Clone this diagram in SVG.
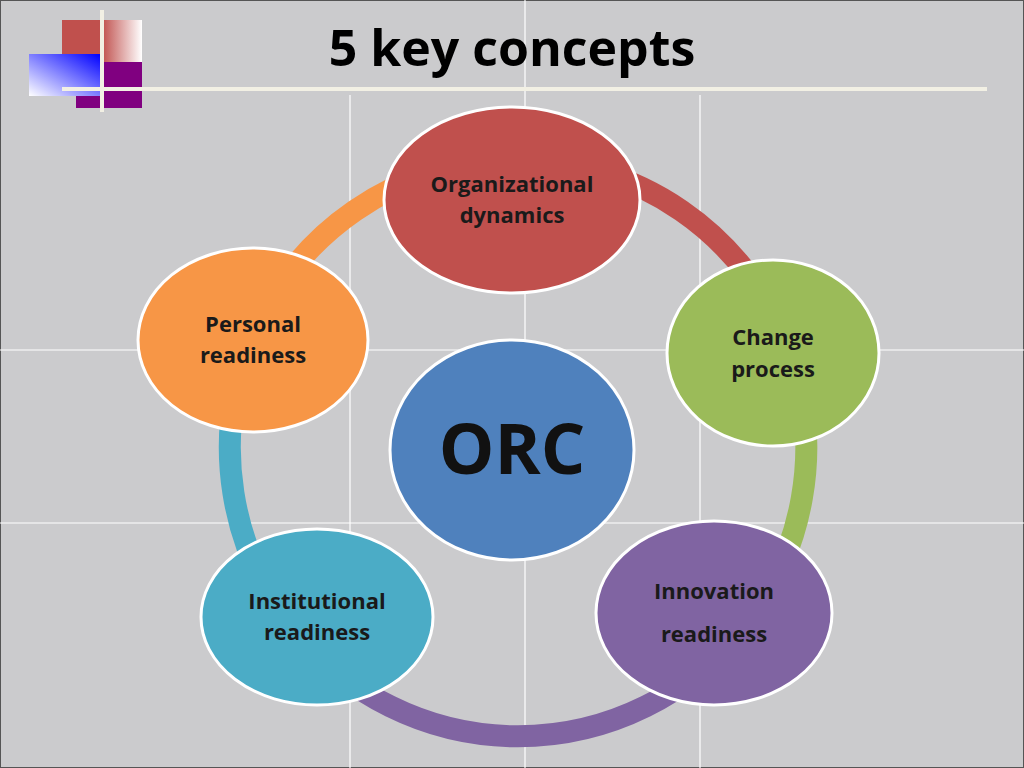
<svg xmlns="http://www.w3.org/2000/svg" width="1024" height="768" viewBox="0 0 1024 768">
<defs>
<linearGradient id="rg" x1="0" y1="0" x2="1" y2="0"><stop offset="0" stop-color="#C0504D"/><stop offset="1" stop-color="#fff"/></linearGradient>
<linearGradient id="bg" x1="1" y1="0" x2="0" y2="1"><stop offset="0" stop-color="#0000FF"/><stop offset="1" stop-color="#fff"/></linearGradient>
<style>
.n{stroke:#fff;stroke-width:3}
.t{font-family:"Open Sans","Liberation Sans",sans-serif;font-weight:bold;font-size:22px;fill:#1a1a1a;text-anchor:middle}
.a{fill:none;stroke-width:22}
.g{stroke:#fff;stroke-width:1.2}
</style>
</defs>
<rect width="1024" height="768" fill="#CBCBCD"/>
<rect x="0.5" y="0.5" width="1023" height="767" fill="none" stroke="#555" stroke-width="1"/>
<g class="g"><line x1="350" y1="95" x2="350" y2="768"/><line x1="525" y1="0" x2="525" y2="768"/><line x1="700" y1="95" x2="700" y2="768"/><line x1="0" y1="350" x2="1024" y2="350"/><line x1="0" y1="523" x2="1024" y2="523"/></g>
<g id="logo">
<rect x="62" y="20" width="40" height="42" fill="#C0504D"/>
<rect x="102" y="20" width="40" height="42" fill="url(#rg)"/>
<rect x="76" y="62" width="66" height="46" fill="#800080"/>
<rect x="29" y="54" width="71" height="42" fill="url(#bg)"/>
<line x1="102" y1="10" x2="102" y2="112" stroke="#F2F0E4" stroke-width="4"/>
<line x1="62" y1="89" x2="987" y2="89" stroke="#F2F0E4" stroke-width="4"/>
</g>
<text x="512" y="66" font-family="'Open Sans','Liberation Sans',sans-serif" font-weight="bold" font-size="50" fill="#000" text-anchor="middle">5 key concepts</text>
<g id="connectors">
<path class="a" stroke="#C0504D" d="M513,160 A288,288 0 0 1 789,350"/>
<path class="a" stroke="#9BBB59" d="M789,350 A288,288 0 0 1 739,633"/>
<path class="a" stroke="#8064A2" d="M739,633 A288,288 0 0 1 297,633"/>
<path class="a" stroke="#4BACC6" d="M297,633 A288,288 0 0 1 251,340"/>
<path class="a" stroke="#F79646" d="M251,340 A288,288 0 0 1 513,160"/>
</g>
<g id="org"><ellipse class="n" cx="512" cy="200" rx="128" ry="93" fill="#C0504D"/><text class="t" x="512" y="192">Organizational</text><text class="t" x="512" y="223">dynamics</text></g>
<g id="personal"><ellipse class="n" cx="253" cy="340" rx="115" ry="92" fill="#F79646"/><text class="t" x="253" y="332">Personal</text><text class="t" x="253" y="363">readiness</text></g>
<g id="change"><ellipse class="n" cx="773" cy="353" rx="106" ry="93" fill="#9BBB59"/><text class="t" x="773" y="345">Change</text><text class="t" x="773" y="377">process</text></g>
<g id="orc"><ellipse class="n" cx="512" cy="450" rx="122" ry="110" fill="#4F81BD"/><text x="512" y="474" font-family="'Open Sans','Liberation Sans',sans-serif" font-weight="bold" font-size="70" fill="#111" text-anchor="middle">ORC</text></g>
<g id="inst"><ellipse class="n" cx="317" cy="617" rx="116" ry="88" fill="#4BACC6"/><text class="t" x="317" y="609">Institutional</text><text class="t" x="317" y="640">readiness</text></g>
<g id="innov"><ellipse class="n" cx="714" cy="613" rx="118" ry="92" fill="#8064A2"/><text class="t" x="714" y="599">Innovation</text><text class="t" x="714" y="642">readiness</text></g>
</svg>
